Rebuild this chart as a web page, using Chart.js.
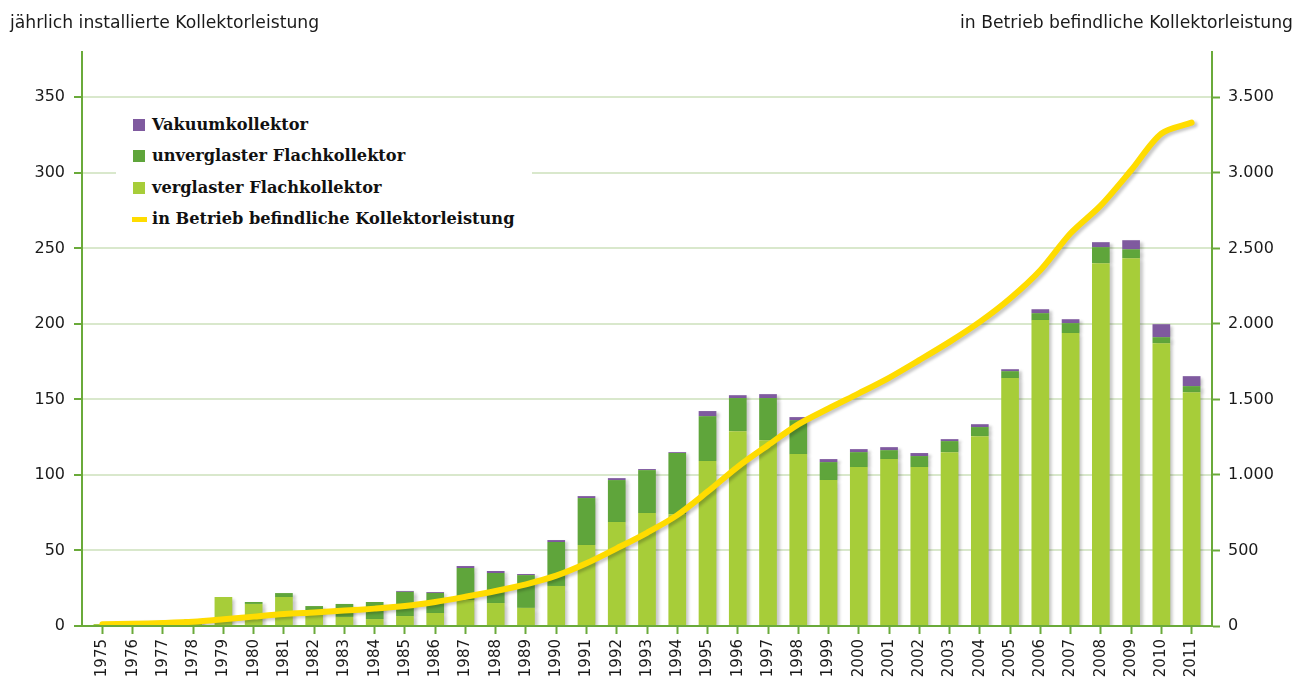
<!DOCTYPE html>
<html lang="de">
<head>
<meta charset="utf-8">
<script src="https://cdn.jsdelivr.net/npm/chart.js@4.4.1/dist/chart.umd.min.js"></script>
<style>
  html, body { margin: 0; padding: 0; background: #fff; overflow: hidden; }
  #wrap { position: relative; width: 1311px; height: 684px; }
  canvas { position: absolute; left: 0; top: 0; }
  .axtitle { position: absolute; top: 10px; font-family: "DejaVu Sans", sans-serif; font-size: 17.2px; color: #1a1a1a; white-space: nowrap; line-height: 24px; }
  #legend { position: absolute; left: 116px; top: 101px; width: 416px; height: 143px; background: #fff; }
  .li { position: absolute; left: 0; height: 24px; font-family: "DejaVu Serif", serif; font-weight: bold; font-size: 16.2px; color: #111; line-height: 24px; white-space: nowrap; }
  .li span.sw { position: absolute; left: 17px; top: 6px; width: 12px; height: 12px; }
  .li span.ln { position: absolute; left: 16px; top: 10px; width: 15px; height: 5px; }
  .li span.tx { position: absolute; left: 36px; top: 0; }
</style>
</head>
<body>
<div id="wrap">
  <canvas id="c" width="1311" height="684"></canvas>
  <div class="axtitle" style="left:10px;">jährlich installierte Kollektorleistung</div>
  <div class="axtitle" style="right:18px;">in Betrieb befindliche Kollektorleistung</div>
  <div id="legend"></div>
</div>
<script>
// ---- data ----
const years = [1975,1976,1977,1978,1979,1980,1981,1982,1983,1984,1985,1986,1987,1988,1989,1990,1991,1992,1993,1994,1995,1996,1997,1998,1999,2000,2001,2002,2003,2004,2005,2006,2007,2008,2009,2010,2011];

const verglasterFlachkollektor = [1.3,0.4,0.4,4.5,19.2,14.6,19.2,8,6,4.6,6.6,8.6,17.2,15.2,12,26.5,53.6,68.8,74.8,74,109.2,129,123,113.8,96.6,105.2,110.5,105.2,115.1,125.7,164.1,202.5,193.9,240.2,243.5,187.2,154.8];

const unverglasterFlachkollektor = [0,0,0,0,0,1.3,2.6,5.2,8.6,11.3,16,13.3,21.2,19.9,21.7,29.1,31.1,27.8,28.4,40.5,29.7,21.9,27.9,22.5,11.9,9.9,5.9,7.3,7.3,6,4.6,4.6,6.6,10.6,5.9,4,4];

const vakuumkollektor = [0,0,0,0,0,0,0,0,0,0,0.6,0.6,1.3,1.3,0.7,1.3,1.3,1.3,0.7,0.6,3.4,1.9,2.6,2,2,2,2,2,1.3,1.9,1.3,2.6,2.6,3.3,6,8.6,6.6];

const inBetrieb = [12,15,20,28,44,62,79,90,102,115,132,159,194,232,276,333,415,514,617,734,889,1054,1197,1335,1440,1540,1643,1760,1881,2013,2168,2355,2600,2785,3017,3260,3332];

const leftTicks = [0,50,100,150,200,250,300,350];
const rightTicks = [0,500,1000,1500,2000,2500,3000,3500];

const seriesNames = ["Vakuumkollektor","unverglaster Flachkollektor","verglaster Flachkollektor","in Betrieb befindliche Kollektorleistung"];

// ---- style ----
const C_PURPLE = '#7f5a9f', C_DARK = '#5fa53b', C_LIGHT = '#a7cd39', C_YELLOW = '#ffdc00';
const C_AXIS = '#6aaa3a', C_GRID = '#d9e8cc';

// legend (HTML)
const leg = document.getElementById('legend');
const legItems = [
  {name: seriesNames[0], color: C_PURPLE, line: false, top: 12},
  {name: seriesNames[1], color: C_DARK, line: false, top: 43},
  {name: seriesNames[2], color: C_LIGHT, line: false, top: 75},
  {name: seriesNames[3], color: C_YELLOW, line: true, top: 106}
];
legItems.forEach(it => {
  const d = document.createElement('div');
  d.className = 'li';
  d.style.top = it.top + 'px';
  d.innerHTML = '<span class="' + (it.line ? 'ln' : 'sw') + '" style="background:' + it.color + '"></span><span class="tx"></span>';
  d.querySelector('.tx').textContent = it.name;
  leg.appendChild(d);
});

function deFormat(v) {
  return String(Math.round(v)).replace(/\B(?=(\d{3})+(?!\d))/g, '.');
}

const shadowPlugin = {
  id: 'shadow',
  beforeDatasetDraw(chart) {
    const ctx = chart.ctx;
    ctx.save();
    ctx.shadowColor = 'rgba(0,0,0,0.22)';
    ctx.shadowBlur = 3;
    ctx.shadowOffsetX = 3;
    ctx.shadowOffsetY = 2;
  },
  afterDatasetDraw(chart) { chart.ctx.restore(); }
};

const tickFont = {family: 'DejaVu Sans', size: 16};

new Chart(document.getElementById('c'), {
  type: 'bar',
  data: {
    labels: years,
    datasets: [
      {type: 'line', label: seriesNames[3], data: inBetrieb, yAxisID: 'y2', borderColor: C_YELLOW, backgroundColor: C_YELLOW, borderWidth: 6, tension: 0.3, pointRadius: 0, borderCapStyle: 'round', borderJoinStyle: 'round', fill: false},
      {label: seriesNames[2], data: verglasterFlachkollektor, backgroundColor: C_LIGHT, yAxisID: 'y', stack: 's', categoryPercentage: 1, barPercentage: 0.585},
      {label: seriesNames[1], data: unverglasterFlachkollektor, backgroundColor: C_DARK, yAxisID: 'y', stack: 's', categoryPercentage: 1, barPercentage: 0.585},
      {label: seriesNames[0], data: vakuumkollektor, backgroundColor: C_PURPLE, yAxisID: 'y', stack: 's', categoryPercentage: 1, barPercentage: 0.585}
    ]
  },
  options: {
    responsive: false,
    animation: false,
    devicePixelRatio: 1,
    layout: {padding: {top: 52, left: 0, right: 0, bottom: 0}},
    plugins: {legend: {display: false}, tooltip: {enabled: false}, title: {display: false}},
    scales: {
      x: {
        type: 'linear',
        stacked: true,
        offset: false,
        min: years[0] - 0.674,
        max: years[years.length - 1] + 0.674,
        grid: {offset: false, drawOnChartArea: false, drawTicks: true, tickLength: 8, tickColor: C_AXIS, tickWidth: 2, color: C_AXIS},
        border: {color: C_AXIS, width: 2, z: 1},
        ticks: {stepSize: 1, includeBounds: false, autoSkip: false, maxRotation: 90, minRotation: 90, padding: 5, color: '#1a1a1a', font: {family: 'DejaVu Sans', size: 15}, callback: v => String(v)},
        afterFit: s => { s.height = 58; }
      },
      y: {
        type: 'linear',
        position: 'left',
        stacked: true,
        min: 0,
        max: 380,
        afterBuildTicks: s => { s.ticks = leftTicks.map(v => ({value: v})); },
        grid: {color: C_GRID, lineWidth: 2, drawTicks: true, tickLength: 8, tickColor: C_AXIS, tickWidth: 2},
        border: {color: C_AXIS, width: 2, z: 1},
        ticks: {padding: 9, color: '#1a1a1a', font: tickFont, callback: v => deFormat(v)},
        afterFit: s => { s.width = 82; }
      },
      y2: {
        type: 'linear',
        position: 'right',
        min: 0,
        max: 3800,
        afterBuildTicks: s => { s.ticks = rightTicks.map(v => ({value: v})); },
        grid: {drawOnChartArea: false, drawTicks: true, tickLength: 8, tickColor: C_AXIS, tickWidth: 2, color: C_AXIS},
        border: {color: C_AXIS, width: 2, z: 1},
        ticks: {padding: 8, color: '#1a1a1a', font: tickFont, callback: v => deFormat(v)},
        afterFit: s => { s.width = 99; }
      }
    }
  },
  plugins: [shadowPlugin]
});
</script>
</body>
</html>
